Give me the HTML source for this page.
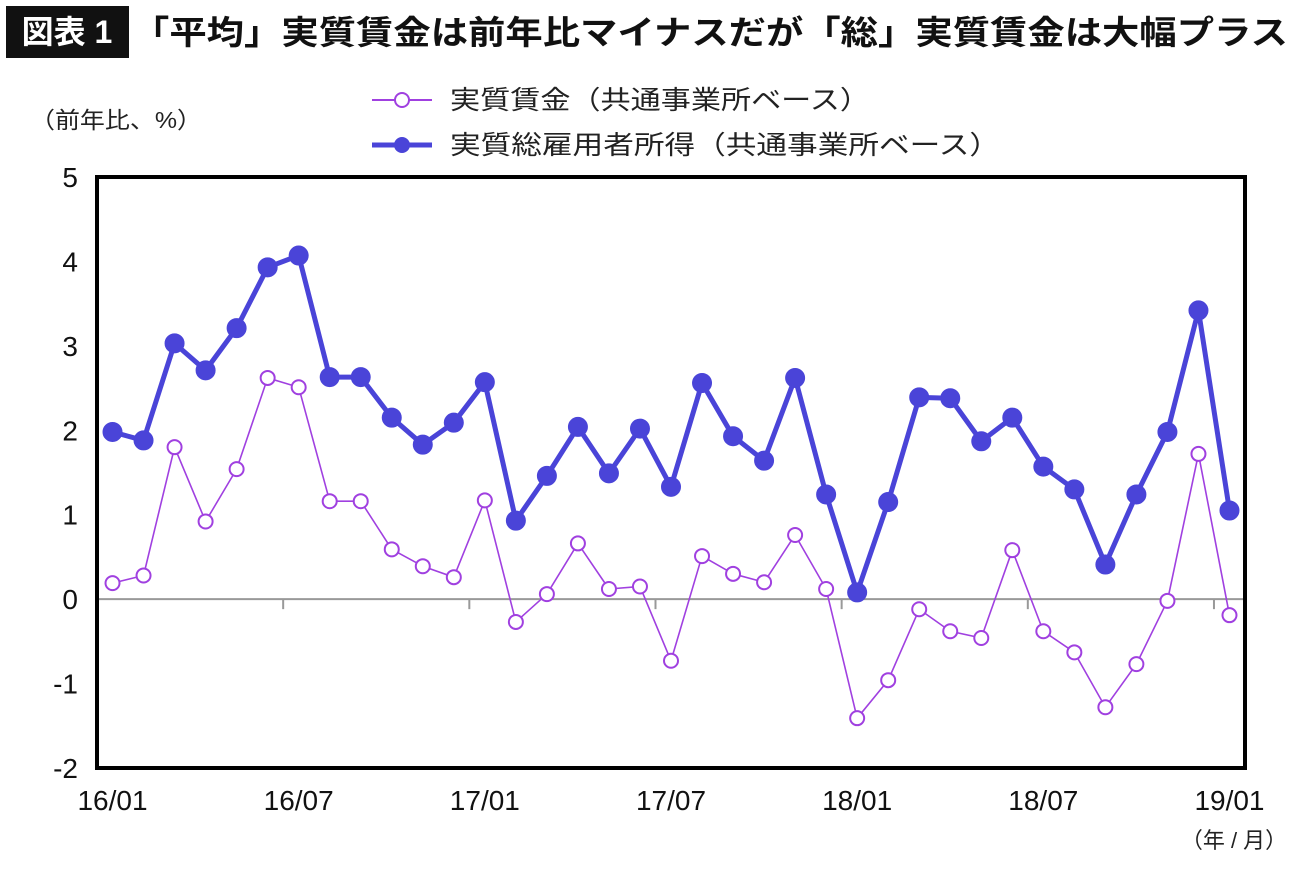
<!DOCTYPE html>
<html><head><meta charset="utf-8">
<style>
body{margin:0;background:#fff;width:1300px;height:868px;overflow:hidden;font-family:"Liberation Sans","Noto Sans CJK JP",sans-serif;}
svg text{font-family:"Liberation Sans","Noto Sans CJK JP",sans-serif;}
</style></head>
<body>
<svg id="chart" width="1300" height="868">
  <rect x="6" y="6" width="123" height="52" fill="#111"/>
  <text x="67" y="43" font-size="32" font-weight="bold" fill="#fff" text-anchor="middle">図表 1</text>
  <text x="132" y="44" font-size="33" font-weight="bold" fill="#111" textLength="1156" lengthAdjust="spacingAndGlyphs">「平均」実質賃金は前年比マイナスだが「総」実質賃金は大幅プラス</text>
  <text x="30" y="128" font-size="23" fill="#222" textLength="172" lengthAdjust="spacingAndGlyphs">（前年比、%）</text>
  <g>
    <line x1="372" y1="100" x2="432" y2="100" stroke="#a040e0" stroke-width="2"/>
    <circle cx="402" cy="100" r="7" fill="#fff" stroke="#a040e0" stroke-width="2"/>
    <text x="450" y="109" font-size="26" fill="#222" textLength="420" lengthAdjust="spacingAndGlyphs">実質賃金（共通事業所ベース）</text>
    <line x1="372" y1="145" x2="432" y2="145" stroke="#4a44d8" stroke-width="5"/>
    <circle cx="402" cy="145" r="8" fill="#4a44d8"/>
    <text x="450" y="154" font-size="26" fill="#222" textLength="550" lengthAdjust="spacingAndGlyphs">実質総雇用者所得（共通事業所ベース）</text>
  </g>
  <g id="axes"></g>
  <g id="marks"></g>
  <rect x="97" y="177" width="1148" height="591" fill="none" stroke="#000" stroke-width="4"/>
  <text x="1234" y="848" font-size="22" fill="#222" text-anchor="middle">（年 / 月）</text>
</svg>
<script>
const categories=["16/01","16/02","16/03","16/04","16/05","16/06","16/07","16/08","16/09","16/10","16/11","16/12","17/01","17/02","17/03","17/04","17/05","17/06","17/07","17/08","17/09","17/10","17/11","17/12","18/01","18/02","18/03","18/04","18/05","18/06","18/07","18/08","18/09","18/10","18/11","18/12","19/01"];
const totalIncome=[1.98,1.88,3.03,2.71,3.21,3.93,4.07,2.63,2.63,2.15,1.83,2.09,2.57,0.93,1.46,2.04,1.49,2.02,1.33,2.56,1.93,1.64,2.62,1.24,0.08,1.15,2.39,2.38,1.87,2.15,1.57,1.30,0.41,1.24,1.98,3.42,1.05];
const realWage=[0.19,0.28,1.80,0.92,1.54,2.62,2.51,1.16,1.16,0.59,0.39,0.26,1.17,-0.27,0.06,0.66,0.12,0.15,-0.73,0.51,0.30,0.20,0.76,0.12,-1.41,-0.96,-0.12,-0.38,-0.46,0.58,-0.38,-0.63,-1.28,-0.77,-0.02,1.72,-0.19];
const yTicks=[-2,-1,0,1,2,3,4,5];
const xLabels=["16/01","16/07","17/01","17/07","18/01","18/07","19/01"];

const NS="http://www.w3.org/2000/svg";
const L=97,R=1245,T=177,B=768,yMin=-2,yMax=5;
const n=categories.length;
const step=(R-L)/n;
function xPos(i){return L+step*(i+0.5);}
function yPos(v){return B-(v-yMin)/(yMax-yMin)*(B-T);}
function mk(tag,attrs,parent){const e=document.createElementNS(NS,tag);for(const k in attrs)e.setAttribute(k,attrs[k]);parent.appendChild(e);return e;}
const axes=document.getElementById('axes'),marks=document.getElementById('marks');

yTicks.forEach(v=>{
  const t=mk('text',{x:78,y:yPos(v)+10,'font-size':28,'text-anchor':'end',fill:'#111'},axes);
  t.textContent=v;
  
  
});
const zl=mk('line',{x1:L,x2:R,y1:yPos(0),y2:yPos(0),stroke:'#999','stroke-width':2},axes);


for(let k=6;k<n;k+=6){
  const tk=mk('line',{x1:L+step*k,x2:L+step*k,y1:yPos(0),y2:yPos(0)+10,stroke:'#999','stroke-width':2},axes);
  
  
}
xLabels.forEach(lab=>{
  const i=categories.indexOf(lab);
  const t=mk('text',{x:xPos(i),y:810,'font-size':28,'text-anchor':'middle',fill:'#111'},axes);
  t.textContent=lab;
  
  
});

function series(vals,color,w,r,filled,name){
  const pts=vals.map((v,i)=>xPos(i)+','+yPos(v)).join(' ');
  const pl=mk('polyline',{points:pts,fill:'none',stroke:color,'stroke-width':w,'stroke-linejoin':'round'},marks);
  
  
  vals.forEach((v,i)=>{
    const c=mk('circle',{cx:xPos(i),cy:yPos(v),r:r,fill:filled?color:'#fff',stroke:color,'stroke-width':2},marks);
    
    
  });
}
series(realWage,'#a040e0',1.6,7,false,'real-wage');
series(totalIncome,'#4a44d8',5,9,true,'real-total-income');
</script>
</body></html>
